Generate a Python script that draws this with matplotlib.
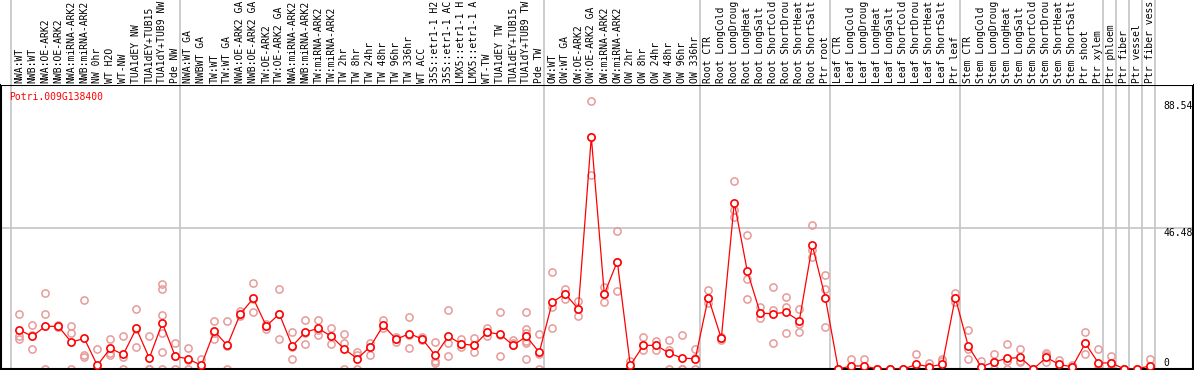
import matplotlib
matplotlib.use("Agg")
import matplotlib.pyplot as plt
from matplotlib.transforms import blended_transform_factory

gene = "Potri.009G138400"

labels = [
    "NWA:WT", "NWB:WT", "NWA:OE-ARK2", "NWB:OE-ARK2", "NWA:miRNA-ARK2", "NWB:miRNA-ARK2",
    "NW 0hr", "WT H2O", "WT-NW", "TUA1dEY NW", "TUA1dEY+TUB15", "TUA1dY+TUB9 NW", "Pde NW",
    "NWA:WT GA", "NWBWT GA", "TW:WT", "TW:WT GA", "NWA:OE-ARK2 GA", "NWB:OE-ARK2 GA",
    "TW:OE-ARK2", "TW:OE-ARK2 GA", "NWA:miRNA-ARK2", "NWB:miRNA-ARK2", "TW:miRNA-ARK2",
    "TW:miRNA-ARK2", "TW 2hr", "TW 8hr", "TW 24hr", "TW 48hr", "TW 96hr", "TW 336hr",
    "WT ACC", "35S::etr1-1 H2", "35S::etr1-1 AC", "LMX5::etr1-1 H", "LMX5::etr1-1 A",
    "WT-TW", "TUA1dEY TW", "TUA1dEY+TUB15", "TUA1dY+TUB9 TW", "Pde TW",
    "OW:WT", "OW:WT GA", "OW:OE-ARK2", "OW:OE-ARK2 GA", "OW:miRNA-ARK2", "OW:miRNA-ARK2",
    "OW 2hr", "OW 8hr", "OW 24hr", "OW 48hr", "OW 96hr", "OW 336hr",
    "Root CTR", "Root LongCold", "Root LongDroug", "Root LongHeat", "Root LongSalt",
    "Root ShortCold", "Root ShortDrou", "Root ShortHeat", "Root ShortSalt", "Ptr root",
    "Leaf CTR", "Leaf LongCold", "Leaf LongDroug", "Leaf LongHeat", "Leaf LongSalt",
    "Leaf ShortCold", "Leaf ShortDrou", "Leaf ShortHeat", "Leaf ShortSalt", "Ptr leaf",
    "Stem CTR", "Stem LongCold", "Stem LongDroug", "Stem LongHeat", "Stem LongSalt",
    "Stem ShortCold", "Stem ShortDrou", "Stem ShortHeat", "Stem ShortSalt", "Ptr shoot",
    "Ptr xylem", "Ptr phloem", "Ptr fiber", "Ptr vessel", "Ptr fiber vess",
]

means = [
    12.9, 10.8, 14.1, 14.1, 8.9, 10.1, 1.2, 6.8, 4.8, 13.4, 3.6, 15.2, 4.2,
    3.3, 1.2, 12.5, 7.8, 18.2, 23.3, 14.2, 18.2, 7.6, 12.2, 13.4, 10.8, 6.6,
    3.4, 7.4, 14.4, 9.8, 11.7, 9.9, 4.5, 10.8, 8.3, 7.8, 12.2, 11.4, 7.8, 10.8, 5.5,
    22.1, 24.8, 19.8, 76.7, 24.8, 35.5, 1.2, 7.8, 7.8, 5.2, 3.6, 3.4,
    23.6, 10.1, 55.0, 32.3, 18.4, 18.3, 18.7, 15.9, 40.9, 23.6,
    0.0, 1.0, 1.0, 0.0, 0.0, 0.0, 1.5, 0.8, 1.5, 23.6,
    7.5, 0.7, 2.4, 3.5, 3.8, 0.0, 3.8, 1.5, 0.7, 8.5, 2.0,
    2.0, 0.0, 0.0, 1.1,
]

replicates = [
    [18.2, 10.9, 9.8], [14.5, 11.3, 6.6], [25.1, 18.2, 0], [14.5, 13.8, 14.0],
    [14.2, 12.0, 0], [22.7, 4.6, 3.8], [6.6, 0, 0], [9.9, 5.2, 4.6],
    [11.0, 3.8, 0], [19.7, 13.1, 7.4], [11.0, 0, 0], [28.1, 26.4, 17.8, 12.0, 5.5, 0],
    [8.5, 4.2, 0],
    [6.8, 3.0, 0], [3.2, 0, 0], [15.8, 11.8, 9.9], [15.8, 7.6, 0],
    [19.0, 17.6, 18.0], [28.3, 23.0, 18.8], [15.0, 13.3, 14.2], [26.3, 18.3, 9.9],
    [12.1, 7.4, 3.3], [16.2, 12.0, 8.3], [16.2, 13.0, 11.1], [13.5, 10.8, 8.1],
    [11.4, 8.5, 0], [5.7, 4.6, 0], [8.5, 7.4, 4.6], [16.2, 14.4, 13.4],
    [10.6, 9.8, 9.0], [17.1, 11.2, 6.8], [10.6, 9.9, 9.5], [8.8, 2.6, 2.1],
    [19.5, 8.6, 4.3], [10.0, 8.3, 7.4], [10.2, 7.8, 5.7], [13.4, 12.2, 11.0],
    [18.7, 11.2, 4.3], [9.6, 7.8, 8.5], [18.7, 13.2, 12.0, 8.5, 3.2, 9.2],
    [11.4, 5.0, 0],
    [32.1, 20.6, 13.4], [26.4, 24.8, 23.2], [22.4, 19.8, 17.5], [88.54, 76.6, 64.2],
    [27.2, 24.8, 22.0], [45.5, 35.5, 25.7], [2.6, 1.0, 0], [10.6, 7.8, 6.3],
    [9.3, 7.8, 6.3], [9.6, 6.3, 0], [11.1, 0, 0], [6.5, 3.7, 0],
    [26.1, 23.6, 21.7], [10.6, 10.1, 9.6], [62.0, 52.6, 50.3], [44.2, 29.6, 23.1],
    [20.5, 18.4, 17.0], [27.1, 19.5, 8.6], [23.7, 20.5, 11.9], [19.7, 15.0, 12.2],
    [47.5, 39.2, 37.0], [30.9, 26.3, 13.9],
    [0, 0, 0], [3.2, 0, 0], [3.2, 0, 0], [0, 0, 0], [0, 0, 0], [0, 0, 0],
    [4.8, 0, 0], [2.1, 0.4, 0], [3.2, 2.8, 0], [25.2, 23.6, 22.0],
    [12.9, 6.5, 3.2], [2.7, 0, 0], [4.8, 2.4, 0], [8.1, 2.5, 0], [6.6, 2.5, 2.2],
    [0, 0, 0], [5.4, 4.6, 2.2], [3.0, 1.5, 0], [1.4, 0.7, 0], [12.1, 8.5, 4.8],
    [6.6, 0, 0], [4.2, 2.0, 0], [0, 0, 0], [0, 0, 0], [3.3, 0, 0],
]

group_ends = [-1, 12, 40, 52, 62, 72, 83, 84, 85, 86, 87]
ytick_values = [88.54, 46.48, 0]

W, H = 1194, 370
fig = plt.figure(figsize=(W / 100, H / 100), dpi=100)
font = "DejaVu Sans Mono"
fs = 7

# x mapping: point i at pixel 19.3 + 13*i, axes from px 1 to 1193
ax_left_px, ax_right_px = 1, 1193
x0 = (ax_left_px - 19.3) / 13
x1 = (ax_right_px - 19.3) / 13

top_px, bot_px = 85, 369
ymax = (bot_px - top_px) / 3.027

ax = fig.add_axes([ax_left_px / W, (H - bot_px) / H,
                   (ax_right_px - ax_left_px) / W, (bot_px - top_px) / H])
lab = fig.add_axes([ax_left_px / W, (H - top_px) / H,
                    (ax_right_px - ax_left_px) / W, top_px / H])

for a in (ax, lab):
    a.set_xlim(x0, x1)
    a.set_xticks([])
    a.set_yticks([])
    a.set_facecolor("white")

ax.set_ylim(0, ymax)
lab.set_ylim(0, 1)
for s in lab.spines.values():
    s.set_visible(False)
for s in ax.spines.values():
    s.set_color("black")
    s.set_linewidth(1.5)

grid_col = "#C4C4C4"
for g in group_ends:
    for a in (ax, lab):
        a.axvline(g + 0.37, color=grid_col, lw=1.2, zorder=0)
ax.axhline(ytick_values[1], color=grid_col, lw=1.2, zorder=0)

xs = list(range(len(means)))
pink = "#E89A9A"
for i, reps in enumerate(replicates):
    ax.plot([i] * len(reps), reps, linestyle="none", marker="o", ms=5.2,
            mfc="none", mec=pink, mew=1.1, zorder=2)

ax.plot(xs, means, color="#FF0000", lw=0.9, marker="o", ms=5.2,
        mfc="white", mec="#FF0000", mew=1.2, zorder=3)

for i, t in enumerate(labels):
    lab.text(i, 2 / 85, t, rotation=90, ha="center", va="bottom",
             fontsize=fs, family=font, color="black", clip_on=False)

tr = blended_transform_factory(ax.transAxes, ax.transData)
xf = (1163 - ax_left_px) / (ax_right_px - ax_left_px)
ax.text(xf, ytick_values[0], "88.54", transform=tr, ha="left", va="top",
        fontsize=fs, family=font)
ax.text(xf, ytick_values[1], "46.48", transform=tr, ha="left", va="top",
        fontsize=fs, family=font)
ax.text(xf, 1.0, "0", transform=tr, ha="left", va="baseline",
        fontsize=fs, family=font)

fig.text(9 / W, 1 - 97 / H, gene, color="#FF0000", ha="left", va="center",
         fontsize=fs, family=font)

fig.savefig("out.png", dpi=100)
